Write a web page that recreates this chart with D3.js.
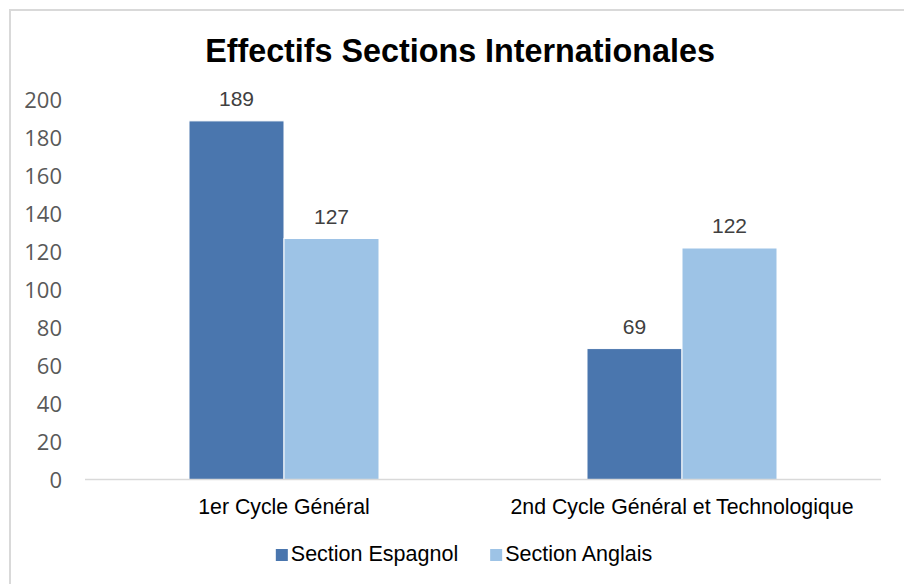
<!DOCTYPE html>
<html>
<head>
<meta charset="utf-8">
<script src="https://cdn.jsdelivr.net/npm/d3@7"></script>
<style>
  html, body { margin: 0; padding: 0; background: #fff; }
  svg { display: block; }
</style>
</head>
<body>
<svg id="chart" width="904" height="584"></svg>
<script>
const title = "Effectifs Sections Internationales";
const categories = ["1er Cycle Général", "2nd Cycle Général et Technologique"];
const seriesNames = ["Section Espagnol", "Section Anglais"];
const espagnol = [189, 69];
const anglais = [127, 122];
const yTicks = [0, 20, 40, 60, 80, 100, 120, 140, 160, 180, 200];
const colors = ["#4a76ae", "#9dc3e6"];

const seriesValues = [espagnol, anglais];
const svg = d3.select("#chart");

// frame
svg.append("rect")
  .attr("x", 10).attr("y", 10)
  .attr("width", 920).attr("height", 600)
  .attr("fill", "#fff")
  .attr("stroke", "#d9d9d9").attr("stroke-width", 2);

// title
svg.append("text")
  .attr("x", 460).attr("y", 62)
  .attr("text-anchor", "middle")
  .attr("font-family", "Liberation Sans, Arial, sans-serif")
  .attr("font-weight", "bold")
  .attr("font-size", 32.3)
  .attr("fill", "#000")
  .text(title);

const plotLeft = 85, plotRight = 881;
const y = d3.scaleLinear().domain([0, 200]).range([479.5, 100]);
const p = 0.5226;
const x0 = d3.scaleBand().domain(categories).range([plotLeft, plotRight])
  .paddingInner(p).paddingOuter(p / 2);
const x1 = d3.scaleBand().domain(seriesNames).range([0, x0.bandwidth()]).padding(0);

// y axis labels
const yAxis = d3.axisLeft(y).tickValues(yTicks).tickSize(0).tickPadding(0);
const gy = svg.append("g").attr("transform", "translate(62,0)").call(yAxis);
gy.select(".domain").remove();
gy.selectAll("text")
  .attr("font-family", "Open Sans, sans-serif")
  .attr("font-size", 22)
  .attr("fill", "#595959")
  .attr("dy", "0.36em");

// bars
const groups = svg.append("g").selectAll("g")
  .data(categories).join("g")
  .attr("transform", d => `translate(${x0(d)},0)`);

groups.selectAll("rect")
  .data((c, i) => seriesNames.map((s, j) => ({ s, v: seriesValues[j][i], j })))
  .join("rect")
  .attr("x", d => x1(d.s))
  .attr("y", d => y(d.v))
  .attr("width", x1.bandwidth())
  .attr("height", d => y(0) - y(d.v))
  .attr("fill", d => colors[d.j])
  .attr("stroke", "#fff").attr("stroke-width", 1);

groups.selectAll("text.val")
  .data((c, i) => seriesNames.map((s, j) => ({ s, v: seriesValues[j][i], j })))
  .join("text").attr("class", "val")
  .attr("x", d => x1(d.s) + x1.bandwidth() / 2)
  .attr("y", d => y(d.v) - 15)
  .attr("text-anchor", "middle")
  .attr("font-family", "Liberation Sans, Arial, sans-serif")
  .attr("font-size", 21)
  .attr("fill", "#404040")
  .text(d => d.v);

// x axis
const xAxis = d3.axisBottom(x0).tickSize(0).tickPadding(0);
const gx = svg.append("g").attr("transform", `translate(0,${y(0)})`).call(xAxis);
gx.select(".domain").remove();
gx.append("line")
  .attr("x1", plotLeft).attr("x2", plotRight)
  .attr("y1", 0).attr("y2", 0)
  .attr("stroke", "#d9d9d9").attr("stroke-width", 1.5);
gx.selectAll(".tick text")
  .attr("font-family", "Liberation Sans, Arial, sans-serif")
  .attr("font-size", 21.3)
  .attr("fill", "#000")
  .attr("dy", 0)
  .attr("y", 34.5);

// legend
const legend = svg.append("g");
let cx = 0;
seriesNames.forEach((s, j) => {
  const g = legend.append("g");
  g.append("rect").attr("x", 0).attr("y", -12).attr("width", 12).attr("height", 12).attr("fill", colors[j]);
  const t = g.append("text").attr("x", 15).attr("y", 0)
    .attr("font-family", "Liberation Sans, Arial, sans-serif")
    .attr("font-size", 21.5).attr("fill", "#000").text(s);
  const w = 15 + t.node().getComputedTextLength();
  g.attr("transform", `translate(${cx},0)`);
  cx += w + 32;
});
const totalW = cx - 32;
legend.attr("transform", `translate(${464 - totalW / 2},561)`);
</script>
</body>
</html>
